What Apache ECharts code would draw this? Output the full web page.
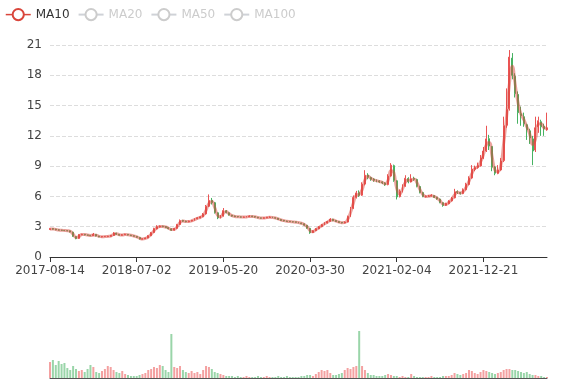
<!DOCTYPE html>
<html><head><meta charset="utf-8">
<script src="https://cdn.jsdelivr.net/npm/echarts@6/dist/echarts.min.js"></script>
<style>html,body{margin:0;padding:0;background:#fff}#c{width:577px;height:386px}</style>
</head><body><div id="c"></div>
<script>
const dates = [
'2017-08-14','2017-08-28','2017-09-04','2017-09-18','2017-09-25','2017-10-09','2017-10-16','2017-10-30','2017-11-06','2017-11-20',
'2017-11-27','2017-12-11','2017-12-18','2018-01-01','2018-01-08','2018-01-22','2018-01-29','2018-02-12','2018-02-19','2018-03-05',
'2018-03-12','2018-03-26','2018-04-02','2018-04-16','2018-04-23','2018-05-07','2018-05-14','2018-05-28','2018-06-04','2018-06-18',
'2018-07-02','2018-07-16','2018-07-23','2018-08-06','2018-08-13','2018-08-27','2018-09-03','2018-09-17','2018-09-24','2018-10-08',
'2018-10-15','2018-10-29','2018-11-05','2018-11-19','2018-11-26','2018-12-10','2018-12-17','2018-12-31','2019-01-07','2019-01-21',
'2019-01-28','2019-02-11','2019-02-18','2019-03-04','2019-03-11','2019-03-25','2019-04-01','2019-04-15','2019-04-22','2019-05-06',
'2019-05-20','2019-06-03','2019-06-10','2019-06-24','2019-07-01','2019-07-15','2019-07-22','2019-08-05','2019-08-12','2019-08-26',
'2019-09-02','2019-09-16','2019-09-23','2019-10-07','2019-10-14','2019-10-28','2019-11-04','2019-11-18','2019-11-25','2019-12-09',
'2019-12-16','2019-12-30','2020-01-06','2020-01-20','2020-01-27','2020-02-10','2020-02-17','2020-03-02','2020-03-09','2020-03-23',
'2020-03-30','2020-04-13','2020-04-20','2020-05-04','2020-05-11','2020-05-25','2020-06-01','2020-06-15','2020-06-22','2020-07-06',
'2020-07-13','2020-07-27','2020-08-03','2020-08-17','2020-08-24','2020-09-07','2020-09-14','2020-09-28','2020-10-05','2020-10-19',
'2020-10-26','2020-11-09','2020-11-16','2020-11-30','2020-12-07','2020-12-21','2020-12-28','2021-01-11','2021-01-18','2021-01-25',
'2021-02-04','2021-02-18','2021-02-25','2021-03-11','2021-03-18','2021-04-01','2021-04-08','2021-04-22','2021-04-29','2021-05-13',
'2021-05-20','2021-06-03','2021-06-10','2021-06-24','2021-07-01','2021-07-15','2021-07-22','2021-08-05','2021-08-12','2021-08-26',
'2021-09-02','2021-09-16','2021-09-23','2021-10-07','2021-10-14','2021-10-28','2021-11-04','2021-11-18','2021-11-25','2021-12-09',
'2021-12-21','2022-01-04','2022-01-11','2022-01-25','2022-02-01','2022-02-15','2022-02-22','2022-03-08','2022-03-15','2022-03-29',
'2022-04-05','2022-04-19','2022-04-26','2022-05-10','2022-05-17','2022-05-31','2022-06-07','2022-06-21','2022-06-28','2022-07-12',
'2022-07-19','2022-08-02','2022-08-09'];

const opens = [
2.72,2.82,2.76,2.69,2.66,2.63,2.61,2.59,2.46,2.02,
1.84,2.20,2.25,2.19,2.14,2.11,2.24,2.07,1.99,2.02,
2.03,2.05,2.13,2.36,2.24,2.15,2.21,2.24,2.17,2.11,
2.04,1.94,1.77,1.81,1.89,2.11,2.42,2.78,2.98,3.06,
3.01,2.91,2.79,2.66,2.84,3.22,3.62,3.54,3.49,3.56,
3.63,3.79,3.87,3.99,4.27,5.02,5.62,5.38,4.38,3.90,
4.06,4.58,4.38,4.14,4.06,4.01,3.97,3.94,3.96,3.99,
4.06,4.01,3.94,3.87,3.84,3.87,3.91,3.96,3.89,3.84,
3.71,3.63,3.56,3.53,3.49,3.48,3.43,3.37,3.29,3.14,
2.84,2.42,2.61,2.79,3.01,3.19,3.37,3.53,3.74,3.61,
3.51,3.43,3.37,3.46,4.02,4.82,5.92,6.38,6.12,7.22,
8.12,7.88,7.72,7.58,7.54,7.44,7.33,7.17,8.02,9.05,
7.55,5.98,6.48,7.02,7.78,7.43,7.78,7.68,6.98,6.38,
5.98,6.01,6.04,6.08,5.91,5.74,5.38,5.12,5.28,5.56,
5.86,6.47,6.38,6.28,6.66,7.18,7.82,8.68,8.88,9.02,
9.78,10.52,11.72,10.95,8.92,8.28,8.62,9.55,13.05,14.70,
19.70,17.90,16.10,14.20,13.90,13.10,12.50,11.70,10.60,12.90,
13.40,12.95,12.60];

const closes = [
2.80,2.75,2.70,2.66,2.64,2.62,2.60,2.48,2.05,1.82,
2.22,2.24,2.20,2.15,2.12,2.25,2.08,2.00,2.02,2.03,
2.05,2.12,2.38,2.25,2.16,2.20,2.25,2.18,2.12,2.05,
1.95,1.78,1.80,1.88,2.10,2.40,2.80,3.00,3.05,3.02,
2.92,2.80,2.65,2.82,3.20,3.60,3.55,3.50,3.55,3.62,
3.78,3.88,3.98,4.25,5.00,5.60,5.40,4.40,3.88,4.05,
4.60,4.40,4.15,4.05,4.00,3.98,3.95,3.95,4.00,4.05,
4.00,3.95,3.88,3.85,3.88,3.92,3.95,3.90,3.85,3.72,
3.62,3.57,3.52,3.50,3.47,3.44,3.38,3.30,3.15,2.85,
2.40,2.60,2.80,3.00,3.20,3.38,3.52,3.75,3.60,3.52,
3.42,3.38,3.45,4.00,4.80,5.90,6.35,6.10,7.20,8.10,
7.90,7.70,7.60,7.52,7.45,7.35,7.15,8.00,9.10,7.60,
5.95,6.50,7.00,7.80,7.45,7.75,7.70,7.00,6.40,6.00,
6.00,6.05,6.10,5.90,5.75,5.40,5.10,5.30,5.55,5.85,
6.45,6.40,6.30,6.65,7.20,7.80,8.70,8.85,9.05,9.80,
10.50,11.70,11.00,8.90,8.30,8.60,9.50,13.00,14.60,19.80,
18.00,16.20,14.30,14.00,13.20,12.60,11.80,10.50,12.80,13.50,
12.90,12.70,12.80];

const lows = [
2.68,2.70,2.65,2.62,2.60,2.58,2.55,2.44,2.00,1.76,
1.80,2.16,2.14,2.10,2.06,2.08,2.04,1.96,1.95,1.98,
2.00,2.02,2.10,2.20,2.12,2.12,2.18,2.14,2.08,2.02,
1.90,1.74,1.74,1.78,1.86,2.08,2.38,2.74,2.92,2.95,
2.86,2.75,2.58,2.62,2.80,3.18,3.48,3.44,3.45,3.52,
3.60,3.74,3.84,3.95,4.20,4.95,5.20,4.30,3.75,3.82,
4.00,4.32,4.10,4.00,3.95,3.93,3.90,3.90,3.92,3.96,
3.95,3.90,3.84,3.80,3.80,3.85,3.88,3.86,3.80,3.68,
3.58,3.53,3.48,3.46,3.43,3.40,3.34,3.26,3.10,2.80,
2.30,2.38,2.58,2.76,2.96,3.15,3.33,3.50,3.55,3.47,
3.38,3.33,3.34,3.42,3.96,4.75,5.80,5.95,6.05,7.10,
7.70,7.55,7.45,7.40,7.35,7.22,7.05,7.10,7.95,7.45,
5.70,5.90,6.40,6.95,7.30,7.38,7.55,6.90,6.30,5.92,
5.90,5.95,6.00,5.84,5.68,5.32,4.98,5.05,5.22,5.50,
5.80,6.25,6.18,6.22,6.60,7.10,7.75,8.50,8.75,8.95,
9.70,10.40,10.60,8.50,8.10,8.20,8.55,9.40,12.80,14.50,
17.60,15.80,13.20,13.00,12.90,11.60,11.20,9.10,10.40,12.30,
12.00,12.00,12.50];

const highs = [
2.88,2.86,2.80,2.74,2.70,2.68,2.66,2.62,2.50,2.06,
2.28,2.30,2.28,2.22,2.18,2.38,2.26,2.10,2.06,2.08,
2.10,2.18,2.46,2.40,2.27,2.26,2.30,2.27,2.20,2.14,
2.06,1.96,1.85,1.92,2.16,2.48,2.90,3.15,3.12,3.10,
3.05,2.95,2.84,2.88,3.28,3.72,3.68,3.60,3.60,3.68,
3.84,3.94,4.05,4.35,5.15,6.20,5.85,5.45,4.42,4.15,
4.85,4.65,4.42,4.18,4.10,4.05,4.02,4.00,4.05,4.12,
4.08,4.03,3.97,3.90,3.92,3.98,4.02,3.99,3.92,3.86,
3.74,3.66,3.60,3.56,3.53,3.50,3.46,3.40,3.32,3.16,
2.86,2.66,2.86,3.06,3.26,3.45,3.58,3.85,3.78,3.64,
3.55,3.47,3.52,4.10,4.95,6.10,6.55,6.60,7.40,8.60,
8.30,7.95,7.80,7.68,7.60,7.50,7.40,8.20,9.30,9.15,
7.60,6.70,7.20,8.10,7.90,8.20,7.95,7.75,7.05,6.45,
6.10,6.15,6.22,6.12,5.95,5.78,5.42,5.38,5.62,5.95,
6.75,6.60,6.45,6.80,7.35,8.00,9.10,9.05,9.35,10.10,
10.90,13.00,12.10,11.00,9.00,9.10,9.80,13.90,16.70,20.50,
20.20,18.20,16.40,14.90,14.30,13.20,12.70,12.00,13.90,13.90,
13.60,13.20,14.30];

const volumes = [
16,18,13,17,14,15,10,8,12,9,
7,8,6,9,13,11,6,5,7,9,
12,11,8,6,5,7,4,3,2,2,
2,3,4,5,8,9,11,10,13,12,
8,6,44,11,10,12,8,6,5,7,
5,6,4,8,12,11,9,6,5,4,
3,2,2,2,1,2,1,1,2,1,
1,1,2,1,1,2,1,1,1,2,
1,1,2,1,1,1,1,2,2,3,
3,2,4,6,8,7,8,5,3,3,
4,5,8,10,9,11,12,47,12,8,
5,3,3,2,2,2,3,4,3,2,
2,1,2,1,1,4,2,1,1,1,
1,1,2,1,1,1,2,2,2,3,
5,4,3,4,5,8,7,5,4,6,
8,7,6,5,4,5,6,8,9,9,
8,8,7,6,5,6,4,3,3,2,
2,1,1];

const ma10 = [
2.78,2.78,2.73,2.68,2.65,2.63,2.61,2.54,2.27,1.95,
2.02,2.22,2.22,2.18,2.14,2.18,2.16,2.04,2.01,2.02,
2.04,2.08,2.25,2.31,2.21,2.18,2.22,2.21,2.15,2.08,
2.00,1.87,1.79,1.84,1.99,2.25,2.60,2.90,3.02,3.03,
2.97,2.86,2.73,2.74,3.01,3.40,3.57,3.52,3.52,3.58,
3.70,3.83,3.93,4.11,4.62,5.30,5.50,4.90,4.14,3.96,
4.32,4.50,4.28,4.10,4.02,3.99,3.96,3.95,3.97,4.02,
4.02,3.98,3.91,3.86,3.86,3.90,3.93,3.92,3.87,3.78,
3.67,3.60,3.54,3.51,3.48,3.45,3.41,3.34,3.22,3.00,
2.62,2.50,2.70,2.90,3.10,3.29,3.45,3.63,3.67,3.56,
3.47,3.40,3.41,3.72,4.40,5.35,6.12,6.22,6.65,7.65,
8.00,7.80,7.65,7.56,7.48,7.40,7.25,7.58,8.55,8.35,
6.78,6.22,6.75,7.40,7.62,7.60,7.72,7.35,6.70,6.20,
6.00,6.02,6.07,6.00,5.82,5.58,5.25,5.20,5.42,5.70,
6.15,6.42,6.35,6.48,6.92,7.50,8.25,8.78,8.95,9.42,
10.15,11.10,11.35,9.95,8.60,8.45,9.05,11.25,13.80,17.20,
18.90,17.10,15.25,14.15,13.60,12.90,12.20,11.15,11.65,13.15,
13.20,12.80,12.75];

const legendNames = ['MA10','MA20','MA50','MA100'];
const UP = '#eb5454', DOWN = '#47b262';
const FONT = 'DejaVu Sans';

const candle = dates.map((d, i) => [opens[i], closes[i], lows[i], highs[i]]);
const vol = volumes.map((v, i) => ({
  value: v,
  itemStyle: { color: closes[i] >= opens[i] ? UP : DOWN, opacity: 0.55 }
}));

const chart = echarts.init(document.getElementById('c'));
chart.setOption({
  animation: false,
  textStyle: { fontFamily: FONT },
  legend: {
    left: 0, top: 3, data: legendNames,
    selected: { MA20: false, MA50: false, MA100: false },
    inactiveColor: '#ccc',
    lineStyle: { width: 1.5, opacity: 1 },
    itemStyle: { borderWidth: 1.5 },
    textStyle: { color: '#333', fontSize: 12, fontFamily: FONT }
  },
  grid: [
    { left: 50, right: 30, top: 45, height: 212 },
    { left: 50, right: 30, top: 331, height: 47 }
  ],
  xAxis: [
    {
      type: 'category', data: dates, boundaryGap: false,
      axisLine: { onZero: false, lineStyle: { color: '#333' } },
      axisTick: { interval: 29, lineStyle: { color: '#333' } },
      axisLabel: { interval: 29, color: '#444', fontSize: 12, fontFamily: FONT },
      splitLine: { show: false }
    },
    {
      type: 'category', gridIndex: 1, data: dates, boundaryGap: false,
      axisLine: { onZero: false, lineStyle: { color: '#555' } },
      axisTick: { show: false }, axisLabel: { show: false }, splitLine: { show: false }
    }
  ],
  yAxis: [
    {
      type: 'value', min: 0, max: 21, interval: 3,
      axisLine: { show: false }, axisTick: { show: false },
      axisLabel: { color: '#444', fontSize: 12, fontFamily: FONT },
      splitLine: { lineStyle: { type: 'dashed', color: '#ddd' } }
    },
    {
      type: 'value', gridIndex: 1, min: 0, max: 'dataMax',
      axisLine: { show: false }, axisTick: { show: false },
      axisLabel: { show: false }, splitLine: { show: false }
    }
  ],
  series: [
    {
      name: 'K', type: 'candlestick', data: candle,
      barMaxWidth: 2,
      itemStyle: { color: UP, color0: DOWN, borderColor: UP, borderColor0: DOWN, borderWidth: 1 }
    },
    {
      name: 'MA10', type: 'line', data: ma10, smooth: true, showSymbol: false,
      itemStyle: { color: '#d9453b' },
      lineStyle: { width: 3, opacity: 0.5 }
    },
    { name: 'MA20', type: 'line', data: [], showSymbol: false },
    { name: 'MA50', type: 'line', data: [], showSymbol: false },
    { name: 'MA100', type: 'line', data: [], showSymbol: false },
    {
      name: 'Volume', type: 'bar', xAxisIndex: 1, yAxisIndex: 1, data: vol,
      barWidth: 2
    }
  ]
});
</script>
</body></html>
